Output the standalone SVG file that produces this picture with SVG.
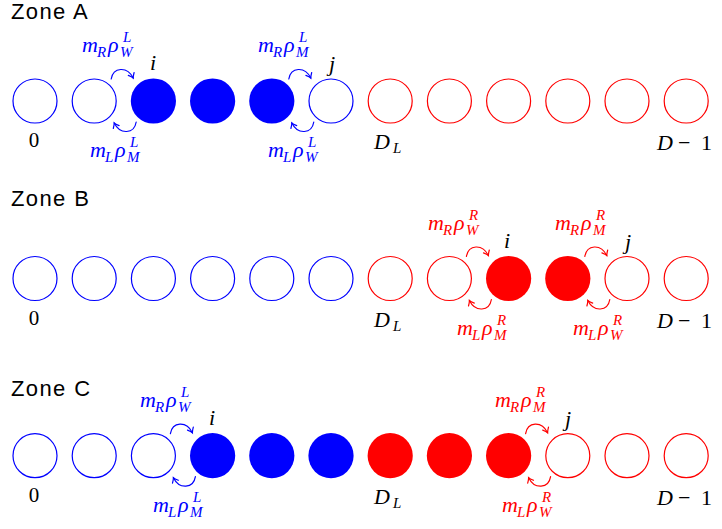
<svg xmlns="http://www.w3.org/2000/svg" width="722" height="529" viewBox="0 0 722 529">
<rect width="722" height="529" fill="#fff"/>
<text x="11" y="19" font-family="Liberation Sans" font-size="22" letter-spacing="1.4" fill="#000">Zone A</text>
<text x="11" y="206" font-family="Liberation Sans" font-size="22" letter-spacing="1.4" fill="#000">Zone B</text>
<text x="11" y="396" font-family="Liberation Sans" font-size="22" letter-spacing="1.4" fill="#000">Zone C</text>

<g id="zoneA">
<g id="A0"><circle cx="35" cy="101" r="22" fill="#fff" stroke="#0000ff" stroke-width="1.2"/><text x="34" y="146.5" font-family="Liberation Serif" font-size="21" text-anchor="middle">0</text></g>
<g id="A1"><circle cx="94.2" cy="101" r="22" fill="#fff" stroke="#0000ff" stroke-width="1.2"/></g>
<g id="A2"><circle cx="153.4" cy="101" r="22.6" fill="#0000ff"/><text x="153" y="70" font-family="Liberation Serif" font-size="22" font-style="italic" text-anchor="middle">i</text></g>
<g id="A3"><circle cx="212.6" cy="101" r="22.6" fill="#0000ff"/></g>
<g id="A4"><circle cx="271.8" cy="101" r="22.6" fill="#0000ff"/></g>
<g id="A5"><circle cx="331" cy="101" r="22" fill="#fff" stroke="#0000ff" stroke-width="1.2"/><text x="332" y="71" font-family="Liberation Serif" font-size="22" font-style="italic" text-anchor="middle">j</text></g>
<g id="A6"><circle cx="390.2" cy="101" r="22" fill="#fff" stroke="#ff0000" stroke-width="1.2"/><text x="374" y="149" font-family="Liberation Serif" font-size="22" font-style="italic">D<tspan x="393" y="153" font-size="15">L</tspan></text></g>
<g id="A7"><circle cx="449.4" cy="101" r="22" fill="#fff" stroke="#ff0000" stroke-width="1.2"/></g>
<g id="A8"><circle cx="508.6" cy="101" r="22" fill="#fff" stroke="#ff0000" stroke-width="1.2"/></g>
<g id="A9"><circle cx="567.8" cy="101" r="22" fill="#fff" stroke="#ff0000" stroke-width="1.2"/></g>
<g id="A10"><circle cx="627" cy="101" r="22" fill="#fff" stroke="#ff0000" stroke-width="1.2"/></g>
<g id="A11"><circle cx="686.2" cy="101" r="22" fill="#fff" stroke="#ff0000" stroke-width="1.2"/><text x="657" y="150" font-family="Liberation Serif" font-size="22" font-style="italic">D<tspan x="678" font-style="normal">−</tspan><tspan x="701" font-style="normal">1</tspan></text></g>
<text x="82" y="52" font-family="Liberation Serif" font-size="22" font-style="italic" fill="#0000ff">m<tspan x="97" y="57" font-size="15">R</tspan><tspan x="108" y="52">ρ</tspan><tspan x="123" y="42" font-size="15">L</tspan><tspan x="120" y="57" font-size="15">W</tspan></text>
<text x="90" y="157" font-family="Liberation Serif" font-size="22" font-style="italic" fill="#0000ff">m<tspan x="105" y="162" font-size="15">L</tspan><tspan x="115" y="157">ρ</tspan><tspan x="130" y="147" font-size="15">L</tspan><tspan x="127" y="162" font-size="15">M</tspan></text>
<text x="258" y="52" font-family="Liberation Serif" font-size="22" font-style="italic" fill="#0000ff">m<tspan x="273" y="57" font-size="15">R</tspan><tspan x="284" y="52">ρ</tspan><tspan x="299" y="42" font-size="15">L</tspan><tspan x="296" y="57" font-size="15">M</tspan></text>
<text x="268" y="157" font-family="Liberation Serif" font-size="22" font-style="italic" fill="#0000ff">m<tspan x="283" y="162" font-size="15">L</tspan><tspan x="293" y="157">ρ</tspan><tspan x="308" y="147" font-size="15">L</tspan><tspan x="305" y="162" font-size="15">W</tspan></text>
</g>

<g id="zoneB">
<g id="B0"><circle cx="35" cy="278.5" r="22" fill="#fff" stroke="#0000ff" stroke-width="1.2"/><text x="34" y="324.5" font-family="Liberation Serif" font-size="21" text-anchor="middle">0</text></g>
<g id="B1"><circle cx="94.2" cy="278.5" r="22" fill="#fff" stroke="#0000ff" stroke-width="1.2"/></g>
<g id="B2"><circle cx="153.4" cy="278.5" r="22" fill="#fff" stroke="#0000ff" stroke-width="1.2"/></g>
<g id="B3"><circle cx="212.6" cy="278.5" r="22" fill="#fff" stroke="#0000ff" stroke-width="1.2"/></g>
<g id="B4"><circle cx="271.8" cy="278.5" r="22" fill="#fff" stroke="#0000ff" stroke-width="1.2"/></g>
<g id="B5"><circle cx="331" cy="278.5" r="22" fill="#fff" stroke="#0000ff" stroke-width="1.2"/></g>
<g id="B6"><circle cx="390.2" cy="278.5" r="22" fill="#fff" stroke="#ff0000" stroke-width="1.2"/><text x="374" y="326.5" font-family="Liberation Serif" font-size="22" font-style="italic">D<tspan x="393" y="330.5" font-size="15">L</tspan></text></g>
<g id="B7"><circle cx="449.4" cy="278.5" r="22" fill="#fff" stroke="#ff0000" stroke-width="1.2"/></g>
<g id="B8"><circle cx="508.6" cy="278.5" r="22.6" fill="#ff0000"/><text x="507" y="247.5" font-family="Liberation Serif" font-size="22" font-style="italic" text-anchor="middle">i</text></g>
<g id="B9"><circle cx="567.8" cy="278.5" r="22.6" fill="#ff0000"/></g>
<g id="B10"><circle cx="627" cy="278.5" r="22" fill="#fff" stroke="#ff0000" stroke-width="1.2"/><text x="628" y="248.5" font-family="Liberation Serif" font-size="22" font-style="italic" text-anchor="middle">j</text></g>
<g id="B11"><circle cx="686.2" cy="278.5" r="22" fill="#fff" stroke="#ff0000" stroke-width="1.2"/><text x="657" y="327.5" font-family="Liberation Serif" font-size="22" font-style="italic">D<tspan x="678" font-style="normal">−</tspan><tspan x="701" font-style="normal">1</tspan></text></g>
<text x="428" y="229.5" font-family="Liberation Serif" font-size="22" font-style="italic" fill="#ff0000">m<tspan x="443" y="234.5" font-size="15">R</tspan><tspan x="454" y="229.5">ρ</tspan><tspan x="469" y="219.5" font-size="15">R</tspan><tspan x="466" y="234.5" font-size="15">W</tspan></text>
<text x="457" y="334.5" font-family="Liberation Serif" font-size="22" font-style="italic" fill="#ff0000">m<tspan x="472" y="339.5" font-size="15">L</tspan><tspan x="482" y="334.5">ρ</tspan><tspan x="497" y="324.5" font-size="15">R</tspan><tspan x="494" y="339.5" font-size="15">M</tspan></text>
<text x="555" y="229.5" font-family="Liberation Serif" font-size="22" font-style="italic" fill="#ff0000">m<tspan x="570" y="234.5" font-size="15">R</tspan><tspan x="581" y="229.5">ρ</tspan><tspan x="596" y="219.5" font-size="15">R</tspan><tspan x="593" y="234.5" font-size="15">M</tspan></text>
<text x="573" y="334.5" font-family="Liberation Serif" font-size="22" font-style="italic" fill="#ff0000">m<tspan x="588" y="339.5" font-size="15">L</tspan><tspan x="598" y="334.5">ρ</tspan><tspan x="613" y="324.5" font-size="15">R</tspan><tspan x="610" y="339.5" font-size="15">W</tspan></text>
</g>

<g id="zoneC">
<g id="C0"><circle cx="35" cy="455.7" r="22" fill="#fff" stroke="#0000ff" stroke-width="1.2"/><text x="34" y="501.5" font-family="Liberation Serif" font-size="21" text-anchor="middle">0</text></g>
<g id="C1"><circle cx="94.2" cy="455.7" r="22" fill="#fff" stroke="#0000ff" stroke-width="1.2"/></g>
<g id="C2"><circle cx="153.4" cy="455.7" r="22" fill="#fff" stroke="#0000ff" stroke-width="1.2"/></g>
<g id="C3"><circle cx="212.6" cy="455.7" r="22.6" fill="#0000ff"/><text x="212" y="424.5" font-family="Liberation Serif" font-size="22" font-style="italic" text-anchor="middle">i</text></g>
<g id="C4"><circle cx="271.8" cy="455.7" r="22.6" fill="#0000ff"/></g>
<g id="C5"><circle cx="331" cy="455.7" r="22.6" fill="#0000ff"/></g>
<g id="C6"><circle cx="390.2" cy="455.7" r="22.6" fill="#ff0000"/><text x="374" y="503.5" font-family="Liberation Serif" font-size="22" font-style="italic">D<tspan x="393" y="507.5" font-size="15">L</tspan></text></g>
<g id="C7"><circle cx="449.4" cy="455.7" r="22.6" fill="#ff0000"/></g>
<g id="C8"><circle cx="508.6" cy="455.7" r="22.6" fill="#ff0000"/></g>
<g id="C9"><circle cx="567.8" cy="455.7" r="22" fill="#fff" stroke="#ff0000" stroke-width="1.2"/><text x="568" y="425.5" font-family="Liberation Serif" font-size="22" font-style="italic" text-anchor="middle">j</text></g>
<g id="C10"><circle cx="627" cy="455.7" r="22" fill="#fff" stroke="#ff0000" stroke-width="1.2"/></g>
<g id="C11"><circle cx="686.2" cy="455.7" r="22" fill="#fff" stroke="#ff0000" stroke-width="1.2"/><text x="657" y="504.5" font-family="Liberation Serif" font-size="22" font-style="italic">D<tspan x="678" font-style="normal">−</tspan><tspan x="701" font-style="normal">1</tspan></text></g>
<text x="140" y="406.5" font-family="Liberation Serif" font-size="22" font-style="italic" fill="#0000ff">m<tspan x="155" y="411.5" font-size="15">R</tspan><tspan x="166" y="406.5">ρ</tspan><tspan x="181" y="396.5" font-size="15">L</tspan><tspan x="178" y="411.5" font-size="15">W</tspan></text>
<text x="153" y="511.5" font-family="Liberation Serif" font-size="22" font-style="italic" fill="#0000ff">m<tspan x="168" y="516.5" font-size="15">L</tspan><tspan x="178" y="511.5">ρ</tspan><tspan x="193" y="501.5" font-size="15">L</tspan><tspan x="190" y="516.5" font-size="15">M</tspan></text>
<text x="495" y="406.5" font-family="Liberation Serif" font-size="22" font-style="italic" fill="#ff0000">m<tspan x="510" y="411.5" font-size="15">R</tspan><tspan x="521" y="406.5">ρ</tspan><tspan x="536" y="396.5" font-size="15">R</tspan><tspan x="533" y="411.5" font-size="15">M</tspan></text>
<text x="502" y="511.5" font-family="Liberation Serif" font-size="22" font-style="italic" fill="#ff0000">m<tspan x="517" y="516.5" font-size="15">L</tspan><tspan x="527" y="511.5">ρ</tspan><tspan x="542" y="501.5" font-size="15">R</tspan><tspan x="539" y="516.5" font-size="15">W</tspan></text>
</g>

<g id="connectors" fill="none" stroke-width="1.2" stroke-linecap="round">
<g stroke="#0000ff">
<path d="M111.2,79 C113.2,67 127.2,66 133.2,78"/>
<path d="M136.2,122 C134.2,134 120.2,135 114.2,123"/>
<path d="M288.8,79 C290.8,67 304.8,66 310.8,78"/>
<path d="M313.8,122 C311.8,134 297.8,135 291.8,123"/>
<path d="M170.4,433.7 C172.4,421.7 186.4,420.7 192.4,432.7"/>
<path d="M195.4,476.7 C193.4,488.7 179.4,489.7 173.4,477.7"/>
<path transform="translate(133.2,78)" d="M-4.9,-2.6 Q-1.2,-1.1 0,0 Q-0.1,-1.6 0.9,-5.5"/>
<path transform="translate(114.2,123)" d="M4.9,2.6 Q1.2,1.1 0,0 Q0.1,1.6 -0.9,5.5"/>
<path transform="translate(310.8,78)" d="M-4.9,-2.6 Q-1.2,-1.1 0,0 Q-0.1,-1.6 0.9,-5.5"/>
<path transform="translate(291.8,123)" d="M4.9,2.6 Q1.2,1.1 0,0 Q0.1,1.6 -0.9,5.5"/>
<path transform="translate(192.4,432.7)" d="M-4.9,-2.6 Q-1.2,-1.1 0,0 Q-0.1,-1.6 0.9,-5.5"/>
<path transform="translate(173.4,477.7)" d="M4.9,2.6 Q1.2,1.1 0,0 Q0.1,1.6 -0.9,5.5"/>
</g>
<g stroke="#ff0000">
<path d="M466.4,256.5 C468.4,244.5 482.4,243.5 488.4,255.5"/>
<path d="M491.4,299.5 C489.4,311.5 475.4,312.5 469.4,300.5"/>
<path d="M584.8,256.5 C586.8,244.5 600.8,243.5 606.8,255.5"/>
<path d="M609.8,299.5 C607.8,311.5 593.8,312.5 587.8,300.5"/>
<path d="M525.6,433.7 C527.6,421.7 541.6,420.7 547.6,432.7"/>
<path d="M550.6,476.7 C548.6,488.7 534.6,489.7 528.6,477.7"/>
<path transform="translate(488.4,255.5)" d="M-4.9,-2.6 Q-1.2,-1.1 0,0 Q-0.1,-1.6 0.9,-5.5"/>
<path transform="translate(469.4,300.5)" d="M4.9,2.6 Q1.2,1.1 0,0 Q0.1,1.6 -0.9,5.5"/>
<path transform="translate(606.8,255.5)" d="M-4.9,-2.6 Q-1.2,-1.1 0,0 Q-0.1,-1.6 0.9,-5.5"/>
<path transform="translate(587.8,300.5)" d="M4.9,2.6 Q1.2,1.1 0,0 Q0.1,1.6 -0.9,5.5"/>
<path transform="translate(547.6,432.7)" d="M-4.9,-2.6 Q-1.2,-1.1 0,0 Q-0.1,-1.6 0.9,-5.5"/>
<path transform="translate(528.6,477.7)" d="M4.9,2.6 Q1.2,1.1 0,0 Q0.1,1.6 -0.9,5.5"/>
</g>
</g>
</svg>
